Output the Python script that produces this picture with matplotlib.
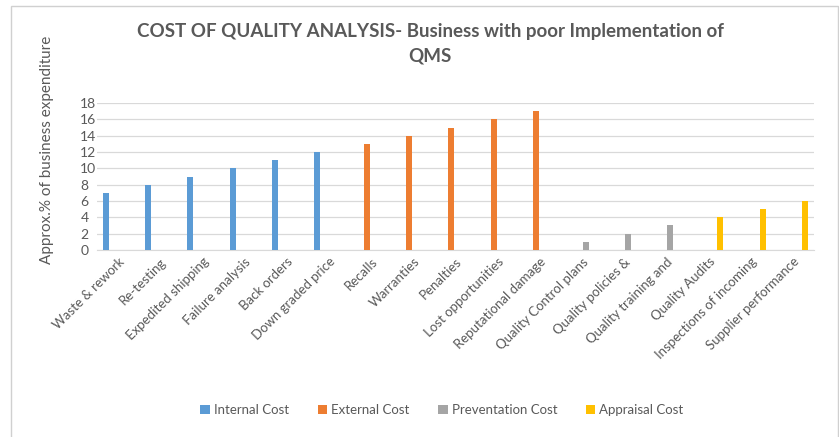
import numpy as np
import matplotlib
matplotlib.use("Agg")
import matplotlib.pyplot as plt
from matplotlib.patches import Rectangle

categories = [
    "Waste & rework", "Re-testing", "Expedited shipping", "Failure analysis",
    "Back orders", "Down graded price", "Recalls", "Warranties", "Penalties",
    "Lost opportunities", "Reputational damage", "Quality Control plans",
    "Quality policies &", "Quality training and", "Quality Audits",
    "Inspections of incoming", "Supplier performance",
]
values = [7, 8, 9, 10, 11, 12, 13, 14, 15, 16, 17, 1, 2, 3, 4, 5, 6]
# which series each category belongs to
groups = [0, 0, 0, 0, 0, 0, 1, 1, 1, 1, 1, 2, 2, 2, 3, 3, 3]
series_names = ["Internal Cost", "External Cost", "Preventation Cost", "Appraisal Cost"]
series_colors = ["#5B9BD5", "#ED7D31", "#A5A5A5", "#FFC000"]
yticks = [0, 2, 4, 6, 8, 10, 12, 14, 16, 18]

plt.rcParams['font.family'] = ['Lato', 'DejaVu Sans']
text_col = "#595959"

fig = plt.figure(figsize=(8.39, 4.37), dpi=100)
ax = fig.add_axes([0.1156, 0.428, 0.8544, 0.336])

# chart border like excel
fig.patches.append(Rectangle((11 / 839, -0.01), (839 - 12) / 839, 1 - 6 / 437 + 0.01,
                             transform=fig.transFigure, fill=False,
                             edgecolor="#D0D0D0", linewidth=1))

slot = 0.19
x = np.arange(len(categories))
for s, (name, col) in enumerate(zip(series_names, series_colors)):
    idx = [i for i, g in enumerate(groups) if g == s]
    ax.bar(x[idx] + (s - 1.5) * slot, [values[i] for i in idx], width=0.14,
           color=col, label=name, zorder=3)

ax.set_xlim(-0.5, len(categories) - 0.5)
ax.set_ylim(0, 18)
ax.set_yticks(yticks)
ax.yaxis.grid(True, color="#D9D9D9", linewidth=0.9, zorder=0)
ax.tick_params(axis='y', length=0, labelsize=10, labelcolor=text_col, pad=12)
ax.tick_params(axis='x', length=0, labelsize=9.5, labelcolor=text_col, pad=4)
ax.set_xticks(x)
ax.set_xticklabels(categories, rotation=45, ha='right', rotation_mode='anchor')
for t in ax.get_yticklabels():
    t.set_horizontalalignment('left')
for sp in ["top", "right", "left"]:
    ax.spines[sp].set_visible(False)
ax.spines["bottom"].set_color("#D9D9D9")

fig.text(47 / 839, 1 - 150 / 437, "Approx.% of business expenditure", rotation=90,
         ha='center', va='center', fontsize=11, color=text_col)

fig.text(430 / 839, 1 - 44 / 437,
         "COST OF QUALITY ANALYSIS- Business with poor Implementation of\nQMS",
         ha='center', va='center', fontsize=13.5, fontweight='bold', color=text_col,
         linespacing=1.55)

leg = fig.legend(loc='center', bbox_to_anchor=(442 / 839, 1 - 410 / 437), ncol=4,
                 frameon=False, fontsize=9.5, handlelength=0.7, handleheight=0.7,
                 handletextpad=0.3, columnspacing=2.2)
for t in leg.get_texts():
    t.set_color(text_col)

fig.savefig("out.png", dpi=100, facecolor="white")
